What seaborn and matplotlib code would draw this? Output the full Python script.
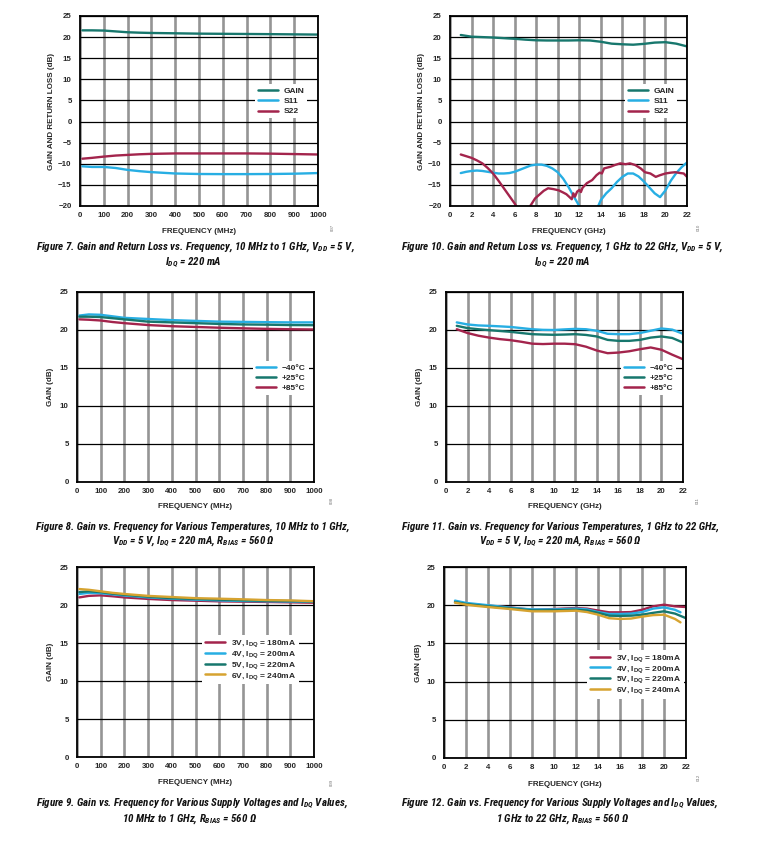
import matplotlib
matplotlib.use("Agg")
import matplotlib.pyplot as plt
import seaborn as sns
import pandas as pd

# ---------------- data ----------------
# Figure 7 (10 MHz - 1 GHz)
freq7 = [10, 50, 100, 150, 200, 250, 300, 400, 500, 600, 700, 800, 900, 1000]
gain7 = [21.6, 21.6, 21.55, 21.35, 21.15, 21.05, 20.98, 20.9, 20.82, 20.78, 20.74, 20.7, 20.65, 20.6]
s11_7 = [-10.6, -10.75, -10.75, -11.0, -11.45, -11.75, -11.98, -12.3, -12.42, -12.45, -12.45, -12.42, -12.35, -12.2]
s22_7 = [-8.8, -8.6, -8.3, -8.05, -7.9, -7.75, -7.65, -7.55, -7.55, -7.55, -7.55, -7.6, -7.7, -7.8]

# Figure 10 (1 - 22 GHz)
freq10 = [1, 2, 3, 4, 5, 6, 7, 8, 9, 10, 11, 12, 13, 14, 15, 16, 17, 18, 19, 20, 21, 22]
gain10 = [20.5, 20.1, 20.0, 19.9, 19.75, 19.6, 19.4, 19.25, 19.2, 19.2, 19.2, 19.25, 19.2, 18.9,
          18.45, 18.3, 18.2, 18.4, 18.7, 18.8, 18.45, 17.8]
freq10_s11 = [1, 1.5, 2, 2.5, 3, 3.5, 4, 4.5, 5, 5.5, 6, 6.5, 7, 7.5, 8, 8.5, 9, 9.5, 10, 10.5, 11,
              11.5, 12, 12.5, 13, 13.5, 14, 14.5, 15, 15.5, 16, 16.5, 17, 17.5, 18, 18.5, 19, 19.5,
              20, 20.5, 21, 21.5, 22]
s11_10 = [-12.2, -11.9, -11.7, -11.6, -11.7, -11.9, -12.1, -12.3, -12.3, -12.2, -11.9, -11.4, -10.9,
          -10.4, -10.2, -10.2, -10.5, -11.1, -12.0, -13.5, -15.5, -17.8, -20.0, -22.5, -23.5, -21.5,
          -18.6, -17.0, -15.8, -14.3, -13.1, -12.3, -12.3, -13.0, -14.2, -15.6, -17.0, -17.9, -16.3,
          -14.0, -12.2, -10.8, -9.7]
freq10_s22 = [1, 1.5, 2, 2.5, 3, 3.5, 4, 4.5, 5, 5.5, 6, 6.5, 7, 7.45, 7.9, 8.7, 9.1, 9.6, 10.1,
              10.5, 10.8, 11.1, 11.3, 11.45, 11.6, 11.8, 12.0, 12.15, 12.3, 12.7, 13.2, 13.6, 13.9,
              14.1, 14.3, 14.9, 15.3, 15.8, 16.3, 16.7, 17.2, 17.7, 18.1, 18.6, 19.1, 19.5, 20.0,
              20.5, 20.9, 21.4, 21.7, 22.0]
s22_10 = [-7.8, -8.2, -8.6, -9.2, -9.9, -11.0, -12.3, -14.0, -15.8, -17.6, -19.4, -21.5, -22.0,
          -20.0, -18.2, -16.4, -15.8, -16.0, -16.3, -16.8, -17.2, -17.9, -18.4, -17.0, -17.8,
          -16.6, -16.2, -16.7, -15.7, -14.6, -13.85, -12.7, -12.1, -12.3, -11.1, -10.7, -10.3,
          -9.9, -10.1, -9.9, -10.3, -11.1, -12.0, -12.3, -13.1, -12.7, -12.3, -12.1, -12.0, -12.2,
          -12.3, -13.1]

# Figure 8 (temperatures, 10 MHz - 1 GHz)
freq8 = [10, 50, 100, 150, 200, 300, 400, 500, 600, 700, 800, 900, 1000]
gain8_m40 = [21.9, 22.05, 22.0, 21.8, 21.6, 21.45, 21.3, 21.2, 21.1, 21.07, 21.03, 21.0, 21.0]
gain8_p25 = [21.75, 21.75, 21.7, 21.55, 21.4, 21.1, 21.0, 20.9, 20.8, 20.73, 20.7, 20.65, 20.63]
gain8_p85 = [21.4, 21.35, 21.25, 21.05, 20.9, 20.65, 20.5, 20.4, 20.3, 20.22, 20.15, 20.1, 20.07]

# Figure 11 (temperatures, 1 - 22 GHz)
freq11 = [1, 2, 3, 4, 5, 6, 7, 8, 9, 10, 11, 12, 13, 14, 15, 16, 17, 18, 19, 20, 21, 22]
gain11_m40 = [21.0, 20.73, 20.6, 20.55, 20.48, 20.4, 20.25, 20.1, 20.02, 20.0, 20.08, 20.15, 20.1,
              19.9, 19.5, 19.45, 19.45, 19.6, 19.9, 20.2, 20.05, 19.5]
gain11_p25 = [20.55, 20.25, 20.1, 19.98, 19.87, 19.76, 19.6, 19.45, 19.4, 19.37, 19.4, 19.45, 19.35,
              19.15, 18.7, 18.57, 18.57, 18.7, 19.0, 19.15, 18.95, 18.35]
gain11_p85 = [20.1, 19.6, 19.25, 19.0, 18.8, 18.66, 18.45, 18.2, 18.15, 18.2, 18.2, 18.13, 17.8,
              17.3, 16.95, 17.03, 17.2, 17.47, 17.7, 17.4, 16.75, 16.15]

# Figure 9 (supply voltages, 10 MHz - 1 GHz)
freq9 = [10, 50, 100, 150, 200, 300, 400, 500, 600, 700, 800, 900, 1000]
gain9_3v = [21.0, 21.2, 21.27, 21.15, 21.0, 20.8, 20.65, 20.57, 20.48, 20.44, 20.4, 20.35, 20.3]
gain9_4v = [21.45, 21.6, 21.55, 21.4, 21.25, 21.0, 20.83, 20.7, 20.6, 20.53, 20.49, 20.46, 20.44]
gain9_5v = [21.7, 21.8, 21.7, 21.5, 21.35, 21.1, 20.9, 20.8, 20.7, 20.62, 20.56, 20.52, 20.48]
gain9_6v = [22.1, 22.0, 21.8, 21.6, 21.45, 21.2, 21.05, 20.9, 20.83, 20.75, 20.65, 20.6, 20.5]

# Figure 12 (supply voltages, 1 - 22 GHz)
freq12 = [1, 2, 3, 4, 5, 6, 7, 8, 9, 10, 11, 12, 13, 14, 15, 16, 17, 18, 19, 20, 21, 22]
freq12_short = [1, 2, 3, 4, 5, 6, 7, 8, 9, 10, 11, 12, 13, 14, 15, 16, 17, 18, 19, 20, 21, 21.5]
gain12_3v = [20.4, 20.16, 20.05, 19.94, 19.83, 19.72, 19.55, 19.4, 19.45, 19.5, 19.57, 19.63, 19.55,
             19.3, 19.07, 19.07, 19.1, 19.4, 19.85, 20.07, 19.85, 19.76]
gain12_4v = [20.6, 20.3, 20.15, 20.0, 19.85, 19.68, 19.55, 19.45, 19.45, 19.45, 19.5, 19.55, 19.45,
             19.1, 18.85, 18.85, 18.9, 19.1, 19.55, 19.72, 19.4, 19.07]
gain12_5v = [20.4, 20.16, 20.0, 19.85, 19.72, 19.6, 19.45, 19.33, 19.33, 19.35, 19.38, 19.4, 19.3,
             19.0, 18.63, 18.6, 18.63, 18.75, 19.0, 19.2, 18.9, 18.3]
gain12_6v = [20.33, 20.07, 19.9, 19.76, 19.63, 19.5, 19.35, 19.2, 19.2, 19.2, 19.24, 19.28, 19.1,
             18.76, 18.3, 18.2, 18.25, 18.5, 18.7, 18.76, 18.2, 17.75]

mhz_ticks = [0, 100, 200, 300, 400, 500, 600, 700, 800, 900, 1000]
ghz_ticks = [0, 2, 4, 6, 8, 10, 12, 14, 16, 18, 20, 22]

# ---------------- style ----------------
TEAL = "#17776d"
CYAN = "#27aee3"
CRIMSON = "#a3244c"
GOLD = "#d6a330"

sns.set_theme(style="white")
CAPFONT = "Roboto Condensed"
plt.rcParams["font.family"] = ["Liberation Sans", "DejaVu Sans"]
plt.rcParams["font.weight"] = "bold"
plt.rcParams["mathtext.fontset"] = "custom"
plt.rcParams["mathtext.it"] = f"{CAPFONT}:bold:italic"
plt.rcParams["mathtext.rm"] = f"{CAPFONT}:bold:italic"
plt.rcParams["mathtext.bf"] = "Liberation Sans:bold"
plt.rcParams["axes.unicode_minus"] = True

W, H = 762, 841
fig = plt.figure(figsize=(W / 100, H / 100), dpi=100)
fig.patch.set_facecolor("white")


def add_ax(x0, y0, x1, y1):
    return fig.add_axes([x0 / W, 1 - y1 / H, (x1 - x0) / W, (y1 - y0) / H])


def style_ax(ax, xticks, xlim, ylim, yticks, xlabel, ylabel, ylab_x, xlab_y):
    ax.set_xlim(*xlim)
    ax.set_ylim(*ylim)
    ax.set_xticks(xticks)
    ax.set_yticks(yticks)
    ax.set_yticklabels([("\u2212" + str(abs(v))) if v < 0 else str(v) for v in yticks])
    ax.set_axisbelow(True)
    ax.grid(axis="x", color="#959595", lw=1.9)
    ax.grid(axis="y", color="black", lw=0.9)
    for s in ax.spines.values():
        s.set_color("black")
        s.set_linewidth(1.3)
    ax.tick_params(length=0, labelsize=5.7, pad=4)
    ax.tick_params(axis="y", pad=6)
    for lab in ax.get_xticklabels() + ax.get_yticklabels():
        lab.set_fontweight("bold")
    ax.set_xlabel(xlabel, fontsize=5.8, fontweight="bold")
    ax.set_ylabel(ylabel, fontsize=5.8, fontweight="bold")
    ax.xaxis.set_label_coords(0.5, xlab_y)
    ax.yaxis.set_label_coords(ylab_x, 0.5)


def plot_series(ax, x, y, color, label):
    df = pd.DataFrame({"x": x, "y": y})
    sns.lineplot(data=df, x="x", y="y", ax=ax, color=color, lw=1.7, label=label,
                 sort=False, estimator=None)


def add_legend(ax, bx, by, spacing=0.3):
    leg = ax.legend(loc="upper left", bbox_to_anchor=(bx, by), borderaxespad=0,
                    frameon=True, fancybox=False, framealpha=1, facecolor="white",
                    edgecolor="none", handlelength=2.4, handletextpad=0.7,
                    labelspacing=spacing, borderpad=0.35, prop={"weight": "bold", "size": 6})
    for h in leg.get_lines():
        h.set_linewidth(1.8)


# ---- Figure 7 ----
ax7 = add_ax(80, 16, 318, 206)
plot_series(ax7, freq7, gain7, TEAL, "GAIN")
plot_series(ax7, freq7, s11_7, CYAN, "S11")
plot_series(ax7, freq7, s22_7, CRIMSON, "S22")
style_ax(ax7, mhz_ticks, (0, 1000), (-20, 25), list(range(-20, 30, 5)),
         "FREQUENCY (MHz)", "GAIN AND RETURN LOSS (dB)", -0.105, -0.115)
add_legend(ax7, 0.735, 0.642)

# ---- Figure 10 ----
ax10 = add_ax(450, 16, 687, 206)
plot_series(ax10, freq10, gain10, TEAL, "GAIN")
plot_series(ax10, freq10_s11, s11_10, CYAN, "S11")
plot_series(ax10, freq10_s22, s22_10, CRIMSON, "S22")
style_ax(ax10, ghz_ticks, (0, 22), (-20, 25), list(range(-20, 30, 5)),
         "FREQUENCY (GHz)", "GAIN AND RETURN LOSS (dB)", -0.105, -0.115)
add_legend(ax10, 0.738, 0.642)

# ---- Figure 8 ----
ax8 = add_ax(77, 292, 314, 482)
plot_series(ax8, freq8, gain8_m40, CYAN, "\u221240\u00b0C")
plot_series(ax8, freq8, gain8_p25, TEAL, "+25\u00b0C")
plot_series(ax8, freq8, gain8_p85, CRIMSON, "+85\u00b0C")
style_ax(ax8, mhz_ticks, (0, 1000), (0, 25), list(range(0, 30, 5)),
         "FREQUENCY (MHz)", "GAIN (dB)", -0.095, -0.11)
add_legend(ax8, 0.743, 0.637)

# ---- Figure 11 ----
ax11 = add_ax(446, 292, 683, 482)
plot_series(ax11, freq11, gain11_m40, CYAN, "\u221240\u00b0C")
plot_series(ax11, freq11, gain11_p25, TEAL, "+25\u00b0C")
plot_series(ax11, freq11, gain11_p85, CRIMSON, "+85\u00b0C")
style_ax(ax11, ghz_ticks, (0, 22), (0, 25), list(range(0, 30, 5)),
         "FREQUENCY (GHz)", "GAIN (dB)", -0.095, -0.11)
add_legend(ax11, 0.738, 0.637)

# ---- Figure 9 ----
ax9 = add_ax(77, 567, 314, 757)
plot_series(ax9, freq9, gain9_3v, CRIMSON, r"3V, $\mathbf{I_{DQ}}$ = 180mA")
plot_series(ax9, freq9, gain9_4v, CYAN, r"4V, $\mathbf{I_{DQ}}$ = 200mA")
plot_series(ax9, freq9, gain9_5v, TEAL, r"5V, $\mathbf{I_{DQ}}$ = 220mA")
plot_series(ax9, freq9, gain9_6v, GOLD, r"6V, $\mathbf{I_{DQ}}$ = 240mA")
style_ax(ax9, mhz_ticks, (0, 1000), (0, 25), list(range(0, 30, 5)),
         "FREQUENCY (MHz)", "GAIN (dB)", -0.095, -0.115)
add_legend(ax9, 0.527, 0.64, spacing=0.0)

# ---- Figure 12 ----
ax12 = add_ax(444, 567, 686, 758)
plot_series(ax12, freq12, gain12_3v, CRIMSON, r"3V, $\mathbf{I_{DQ}}$ = 180mA")
plot_series(ax12, freq12_short, gain12_4v, CYAN, r"4V, $\mathbf{I_{DQ}}$ = 200mA")
plot_series(ax12, freq12, gain12_5v, TEAL, r"5V, $\mathbf{I_{DQ}}$ = 220mA")
plot_series(ax12, freq12_short, gain12_6v, GOLD, r"6V, $\mathbf{I_{DQ}}$ = 240mA")
style_ax(ax12, ghz_ticks, (0, 22), (0, 25), list(range(0, 30, 5)),
         "FREQUENCY (GHz)", "GAIN (dB)", -0.09, -0.12)
add_legend(ax12, 0.59, 0.565, spacing=0.0)

# ---- figure ids ----
for (x, y, t) in [(333, 227, "007"), (699, 227, "010"), (332, 500, "008"),
                  (698, 500, "011"), (332, 782, "009"), (699, 777, "012")]:
    fig.text(x / W, 1 - y / H, t, rotation=90, fontsize=3.2, color="#777777",
             ha="center", va="center", fontweight="normal")

# ---- captions ----
cap = dict(fontsize=7.9, fontstyle="italic", fontweight="bold",
           family=[CAPFONT, "Liberation Sans"], ha="center", va="center", color="#111111")
captions = [
    (195, 247, r"Figure 7. Gain and Return Loss vs. Frequency, 10 MHz to 1 GHz, $V_{DD}$ = 5 V,"),
    (193, 263, r"$I_{DQ}$ = 220 mA"),
    (562, 247, r"Figure 10. Gain and Return Loss vs. Frequency, 1 GHz to 22 GHz, $V_{DD}$ = 5 V,"),
    (562, 263, r"$I_{DQ}$ = 220 mA"),
    (193, 527, r"Figure 8. Gain vs. Frequency for Various Temperatures, 10 MHz to 1 GHz,"),
    (193, 542, r"$V_{DD}$ = 5 V, $I_{DQ}$ = 220 mA, $R_{BIAS}$ = 560 Ω"),
    (561, 527, r"Figure 11. Gain vs. Frequency for Various Temperatures, 1 GHz to 22 GHz,"),
    (560, 542, r"$V_{DD}$ = 5 V, $I_{DQ}$ = 220 mA, $R_{BIAS}$ = 560 Ω"),
    (192, 804, r"Figure 9. Gain vs. Frequency for Various Supply Voltages and $I_{DQ}$ Values,"),
    (190, 819, r"10 MHz to 1 GHz, $R_{BIAS}$ = 560 Ω"),
    (560, 804, r"Figure 12. Gain vs. Frequency for Various Supply Voltages and $I_{DQ}$ Values,"),
    (563, 819, r"1 GHz to 22 GHz, $R_{BIAS}$ = 560 Ω"),
]
for x, y, t in captions:
    fig.text(x / W, 1 - y / H, t, **cap)

fig.savefig("out.png", dpi=100, facecolor="white")
